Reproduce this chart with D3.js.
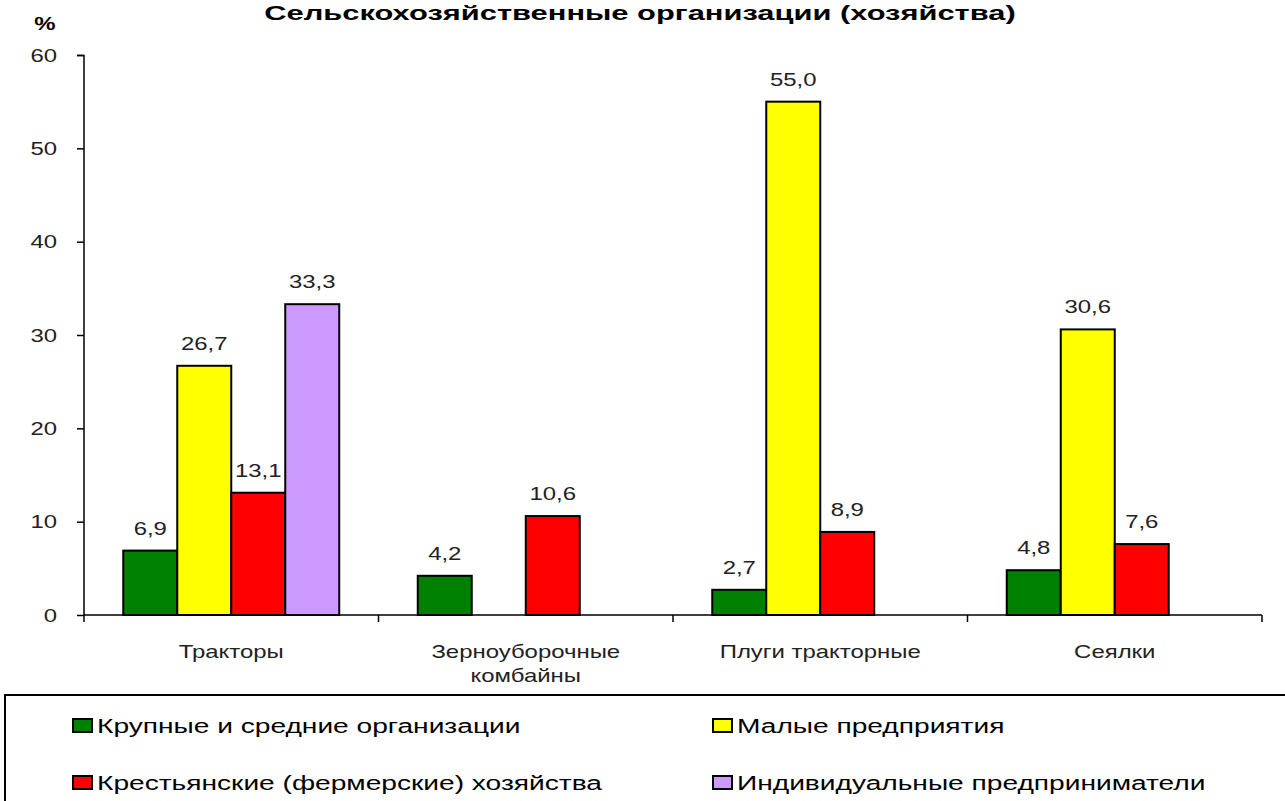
<!DOCTYPE html>
<html>
<head>
<meta charset="utf-8">
<script src="https://cdn.jsdelivr.net/npm/d3@7"></script>
<style>
  html, body { margin: 0; padding: 0; background: #fff; }
  svg { display: block; }
</style>
</head>
<body>
<svg id="chart" width="1285" height="801"></svg>
<script>
// Chart data
const categories = ["Тракторы", "Зерноуборочные\nкомбайны", "Плуги тракторные", "Сеялки"];
const seriesNames = [
  "Крупные и средние организации",
  "Малые предприятия",
  "Крестьянские (фермерские) хозяйства",
  "Индивидуальные предприниматели"
];
const seriesColors = ["#008000", "#FFFF00", "#FF0000", "#CC99FF"];
const largeMedium = [6.9, 4.2, 2.7, 4.8];
const small = [26.7, null, 55.0, 30.6];
const farms = [13.1, 10.6, 8.9, 7.6];
const individual = [33.3, null, null, null];
const yTicks = [0, 10, 20, 30, 40, 50, 60];

const seriesValues = [largeMedium, small, farms, individual];

const svg = d3.select("#chart");
const fmt = v => v.toFixed(1).replace(".", ",");
const FONT = "'Liberation Sans', Arial, sans-serif";
const SX = 1.33; // horizontal stretch of the lettering

// Places a horizontally stretched text at (x, y)
function label(parent, x, y, txt, opts = {}) {
  const t = parent.append("text")
    .attr("transform", `translate(${x},${y}) scale(${opts.sx || SX},1)`)
    .attr("text-anchor", opts.anchor || "middle")
    .style("font-family", FONT)
    .style("font-size", (opts.size || 18) + "px")
    .style("font-weight", opts.weight || "normal")
    .attr("fill", opts.fill || "#222");
  if (opts.dy) t.attr("dy", opts.dy);
  t.text(txt);
  return t;
}

const x = d3.scaleBand().domain(categories).range([84, 1262]).paddingInner(0).paddingOuter(0);
const xs = d3.scaleBand().domain(d3.range(seriesNames.length)).range([0, x.bandwidth()])
  .paddingInner(0).paddingOuter(0.727);
const y = d3.scaleLinear().domain([0, 60]).range([615, 55]);

// Title and unit
label(svg, 640, 20, "Сельскохозяйственные организации (хозяйства)",
  { size: 21, weight: "bold", sx: 1.47, fill: "#000" });
label(svg, 45, 30, "%", { size: 18, weight: "bold", fill: "#000" });

// Y axis
const yAxis = d3.axisLeft(y).tickValues(yTicks).tickSize(7).tickFormat("");
const gy = svg.append("g").attr("transform", "translate(84,0)").call(yAxis);
gy.select(".domain").attr("stroke", "#000").attr("stroke-width", 1.5).attr("d", "M-7,55.5H0V615.5");
gy.selectAll(".tick line").attr("stroke", "#000").attr("stroke-width", 1.5);
gy.selectAll(".tick").each(function (d) {
  label(d3.select(this), -27, 0, String(d), { anchor: "end", dy: "0.35em" });
});

// X axis with ticks at category boundaries
const gx = svg.append("g").attr("transform", "translate(0,615)");
gx.append("line").attr("x1", 84).attr("x2", 1262).attr("y1", 0).attr("y2", 0)
  .attr("stroke", "#000").attr("stroke-width", 1.5);
const bounds = categories.map(c => x(c)).concat([x(categories[categories.length - 1]) + x.bandwidth()]);
gx.selectAll("line.tk").data(bounds).enter().append("line").attr("class", "tk")
  .attr("x1", d => d).attr("x2", d => d).attr("y1", 0).attr("y2", 7)
  .attr("stroke", "#000").attr("stroke-width", 1.5);

const catLabels = svg.append("g");
categories.forEach(c => {
  c.split("\n").forEach((line, i) => {
    label(catLabels, x(c) + x.bandwidth() / 2, 658 + i * 24, line);
  });
});

// Bars and value labels
const bars = svg.append("g");
seriesValues.forEach((vals, si) => {
  vals.forEach((v, ci) => {
    if (v == null) return;
    const cx = x(categories[ci]) + xs(si);
    bars.append("rect")
      .attr("x", cx).attr("y", y(v))
      .attr("width", xs.bandwidth()).attr("height", y(0) - y(v))
      .attr("fill", seriesColors[si]).attr("stroke", "#000").attr("stroke-width", 2);
    label(bars, cx + xs.bandwidth() / 2, y(v) - 16, fmt(v));
  });
});

// Legend
const lg = svg.append("g");
lg.append("rect").attr("x", 5).attr("y", 695).attr("width", 1300).attr("height", 130)
  .attr("fill", "#fff").attr("stroke", "#000").attr("stroke-width", 2);
const legendPos = [[72, 725], [712, 725], [72, 782], [712, 782]];
seriesNames.forEach((name, i) => {
  const [lx, ly] = legendPos[i];
  lg.append("rect").attr("x", lx + 1).attr("y", ly - 6).attr("width", 19).attr("height", 13)
    .attr("fill", seriesColors[i]).attr("stroke", "#000").attr("stroke-width", 2);
  label(lg, lx + 25, ly + 8, name, { anchor: "start", size: 21, sx: 1.34, fill: "#000" });
});
</script>
</body>
</html>
